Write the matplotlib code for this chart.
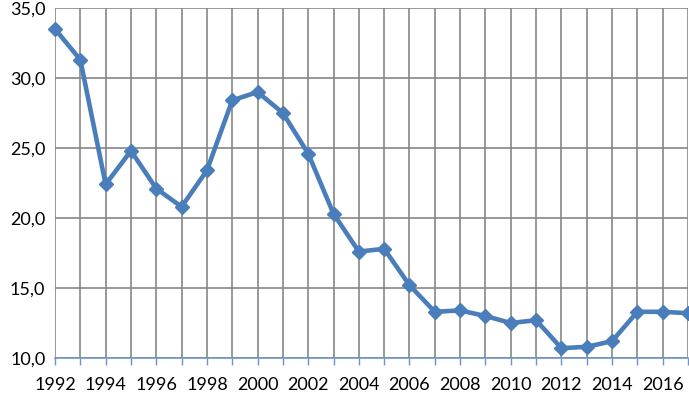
import matplotlib.pyplot as plt
from matplotlib.ticker import MultipleLocator, FuncFormatter

# Data
years = list(range(1992, 2018))
values = [33.5, 31.3, 22.4, 24.8, 22.1, 20.8, 23.4, 28.4, 29.0, 27.5,
          24.6, 20.3, 17.6, 17.8, 15.2, 13.3, 13.4, 13.0, 12.5, 12.7,
          10.7, 10.8, 11.2, 13.3, 13.3, 13.2]

plt.rcParams['font.family'] = ['Lato', 'DejaVu Sans']

fig = plt.figure(figsize=(6.89, 3.98), dpi=100)
ax = fig.add_axes([55 / 689, 1 - 358 / 398, 633 / 689, 350 / 398])

line_color = "#4A7EBB"
grid_color = "#868686"

ax.plot(years, values, color=line_color, linewidth=3.3, marker="D",
        markersize=7.5, zorder=3, clip_on=False)

ax.set_xlim(1992, 2017)
ax.set_ylim(10, 35)

ax.xaxis.set_major_locator(MultipleLocator(1))
ax.yaxis.set_major_locator(MultipleLocator(5))
ax.xaxis.set_major_formatter(
    FuncFormatter(lambda v, p: f"{int(round(v))}" if int(round(v)) % 2 == 0 else ""))
ax.yaxis.set_major_formatter(FuncFormatter(lambda v, p: f"{v:.1f}".replace(".", ",")))

ax.grid(True, color=grid_color, linewidth=1.2)
ax.set_axisbelow(True)

for s in ["top", "right", "left"]:
    ax.spines[s].set_visible(False)
ax.spines["bottom"].set_color("#6F93C8")
ax.spines["bottom"].set_linewidth(1.2)
ax.spines["bottom"].set_zorder(2)

ax.tick_params(axis="x", length=5, width=1, color="#6F93C8", pad=9, labelsize=13)
ax.tick_params(axis="y", length=0, pad=7, labelsize=13)

fig.savefig("out.png", dpi=100)
